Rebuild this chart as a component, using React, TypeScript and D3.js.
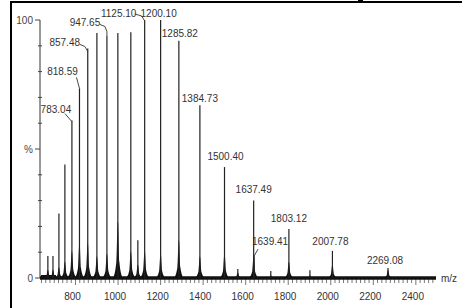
import React from "react";
import * as d3 from "d3";

// ---- data ----
const peakMz = [670, 694, 722, 750, 783.04, 818.59, 857.48, 900.5, 947.65, 999, 1060, 1093, 1125.10, 1200.10, 1285.82, 1384.73, 1500.40, 1563, 1637.49, 1639.41, 1718, 1803.12, 1902, 2007.78, 2269.08];
const peakInt = [8.5, 8.5, 25, 44, 61, 73.5, 89, 95, 94, 95, 95.3, 14.6, 100, 100, 92, 67, 43, 3.5, 30, 8.5, 2.7, 19, 3, 10.5, 3.9];
const humpInt = [3, 3, 4, 6, 10, 13, 13, 8, 9, 21, 10, 5, 10, 9, 14, 8, 9, 2, 8, 0, 1, 6, 1, 5, 3];
const labeledMz = [783.04, 818.59, 857.48, 947.65, 1125.10, 1200.10, 1285.82, 1384.73, 1500.40, 1637.49, 1639.41, 1803.12, 2007.78, 2269.08];
const xTickValues = [800, 1000, 1200, 1400, 1600, 1800, 2000, 2200, 2400];
const yTickValues = [0, 10, 20, 30, 40, 50, 60, 70, 80, 90, 100];
const yTickLabels: Record<number, string> = { 0: "0", 50: "%", 100: "100" };

// ---- label layout (offsets from peak top, px) ----
const labelLayout: Record<string, { dx: number; dy: number; leader?: [number, number][] }> = {
  "783.04": { dx: -16, dy: -8, leader: [[-7, -7], [0, 1]] },
  "818.59": { dx: -17, dy: -13, leader: [[-3, -11], [0, 0]] },
  "857.48": { dx: -23, dy: -2, leader: [[-8, -4], [-3, -2], [0, 3]] },
  "947.65": { dx: -22, dy: -9, leader: [[-7, -11], [-2, -9], [0, -4], [0, 0]] },
  "1125.10": { dx: -26, dy: -3, leader: [[-10, -6], [-3, -4], [0, 1]] },
  "1200.10": { dx: -2, dy: -3 },
  "1285.82": { dx: 1, dy: -4 },
  "1384.73": { dx: 0, dy: -3 },
  "1500.40": { dx: 1, dy: -7 },
  "1637.49": { dx: 0, dy: -8 },
  "1639.41": { dx: 16, dy: -11, leader: [[4, -7], [0, 0]] },
  "1803.12": { dx: 0, dy: -7 },
  "2007.78": { dx: -2, dy: -6 },
  "2269.08": { dx: -3, dy: -4 },
};

export default function App() {
  const W = 462, H = 308;
  const x = d3.scaleLinear().domain([633, 2490]).range([40, 435]);
  const y = d3.scaleLinear().domain([0, 100]).range([278, 20]);
  const font = "'Liberation Sans', Arial, sans-serif";

  const hump = d3
    .area<[number, number]>()
    .x((d) => x(d[0]))
    .y0(y(0))
    .y1((d) => y(d[1]))
    .curve(d3.curveMonotoneX);

  const minorX = d3.range(640, 2481, 20);

  return (
    <svg width={W} height={H} style={{ position: "absolute", left: 0, top: 0, background: "#fff" }}>
      {/* frame */}
      <line x1={11} y1={1} x2={11} y2={H} stroke="#000" strokeWidth={2} />
      <line x1={10} y1={2} x2={W} y2={2} stroke="#000" strokeWidth={2} />
      <rect x={358} y={0} width={5} height={3} fill="#000" />

      {/* y axis */}
      <line x1={40} y1={y(100)} x2={40} y2={y(0)} stroke="#333" strokeWidth={1} />
      {yTickValues.map((t) => {
        const major = t % 50 === 0;
        return (
          <g key={t}>
            <line x1={major ? 35 : 38} x2={major ? 40 : 42} y1={y(t)} y2={y(t)} stroke="#444" strokeWidth={1} />
            {yTickLabels[t] && (
              <text x={33} y={y(t) + 3.5} textAnchor="end" fontSize={10} fontFamily={font} fill="#444">
                {yTickLabels[t]}
              </text>
            )}
          </g>
        );
      })}

      {/* x axis ticks */}
      {minorX.map((t) => (
        <line key={t} x1={x(t)} x2={x(t)} y1={279} y2={t % 200 === 0 ? 285 : 283} stroke="#555" strokeWidth={0.8} />
      ))}
      {xTickValues.map((t) => (
        <text key={t} x={x(t) - 3} y={300} textAnchor="middle" fontSize={10} fontFamily={font} fill="#333">
          {t}
        </text>
      ))}
      <text x={441} y={282} fontSize={10} fontFamily={font} fill="#333">m/z</text>

      {/* humps */}
      {peakMz.map((m, i) => {
        const s = humpInt[i];
        if (s <= 0) return null;
        const pts: [number, number][] = [
          [m - 22, 0], [m - 7, s * 0.3], [m - 1.5, s], [m, s * 1.05], [m + 1.5, s], [m + 7, s * 0.3], [m + 22, 0],
        ];
        return <path key={"h" + i} d={hump(pts) || ""} fill="#111" />;
      })}

      {/* baseline */}
      <line x1={40} y1={y(0)} x2={436} y2={y(0)} stroke="#111" strokeWidth={3.5} />
      <line x1={41} y1={y(0) - 2} x2={56} y2={y(0) - 2} stroke="#111" strokeWidth={2} />

      {/* peaks */}
      {peakMz.map((m, i) => (
        <line key={"p" + i} x1={x(m)} x2={x(m)} y1={y(0)} y2={y(peakInt[i])} stroke="#222" strokeWidth={1.2} />
      ))}

      {/* labels */}
      {labeledMz.map((m) => {
        const i = peakMz.indexOf(m);
        const px = x(m), py = y(peakInt[i]);
        const key = m.toFixed(2);
        const L = labelLayout[key];
        return (
          <g key={"l" + key}>
            {L.leader && (
              <polyline
                points={L.leader.map((p) => `${px + p[0]},${py + p[1]}`).join(" ")}
                fill="none"
                stroke="#333"
                strokeWidth={0.9}
              />
            )}
            <text x={px + L.dx} y={py + L.dy} textAnchor="middle" fontSize={10} fontFamily={font} fill="#333">
              {key}
            </text>
          </g>
        );
      })}
    </svg>
  );
}
